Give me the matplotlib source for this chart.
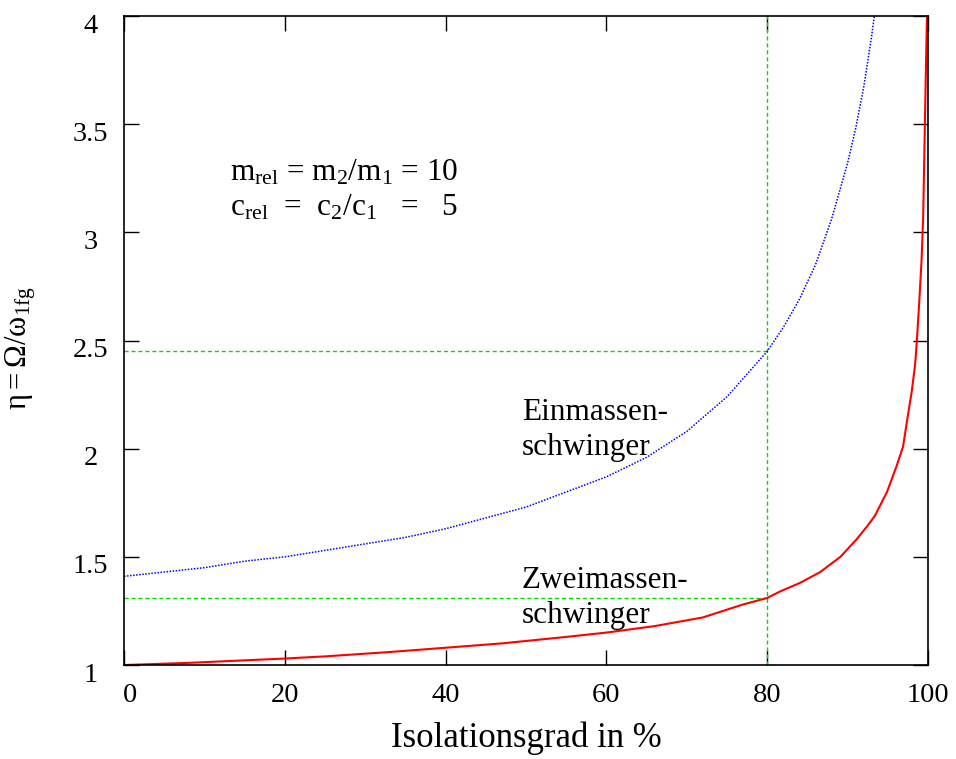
import matplotlib
matplotlib.use("Agg")
import matplotlib.pyplot as plt
import matplotlib.transforms as mtransforms

plt.rcParams["font.family"] = ["Liberation Serif", "DejaVu Serif"]
plt.rcParams["mathtext.fontset"] = "custom"
plt.rcParams["mathtext.rm"] = "Liberation Serif"
plt.rcParams["mathtext.it"] = "Liberation Serif"

# Einmassenschwinger (blue, dotted)
iso_ein = [0, 5, 10, 15, 20, 25, 30, 35, 40, 45, 50, 55, 60, 65, 70, 75, 80,
           82, 84, 86, 88, 90, 91, 92, 93, 93.4]
eta_ein = [1.41, 1.43, 1.45, 1.48, 1.50, 1.53, 1.56, 1.59, 1.63, 1.68, 1.73,
           1.80, 1.87, 1.96, 2.08, 2.24, 2.45, 2.56, 2.69, 2.85, 3.06, 3.32,
           3.48, 3.67, 3.91, 4.02]

# Zweimassenschwinger (red, solid)
iso_zwei = [0, 8, 20, 25, 33, 40, 47, 55, 60, 66, 72, 77, 80, 81.6, 84.1,
            86.6, 89.1, 91.1, 92.4, 93.4, 94.9, 96.1, 96.9, 97.4, 98.0, 98.4,
            98.6, 98.9, 99.2, 99.4, 99.6, 99.8, 99.9]
eta_zwei = [1.00, 1.01, 1.03, 1.04, 1.06, 1.08, 1.10, 1.13, 1.15, 1.18, 1.22,
            1.28, 1.31, 1.34, 1.38, 1.43, 1.50, 1.58, 1.64, 1.69, 1.80, 1.92,
            2.01, 2.13, 2.27, 2.39, 2.49, 2.67, 2.87, 3.07, 3.47, 3.87, 4.03]

# reference lines at 80 % isolation
iso_ref = 80
eta_ref_ein = 2.45
eta_ref_zwei = 1.31

xticks = [0, 20, 40, 60, 80, 100]
yticks = [1, 1.5, 2, 2.5, 3, 3.5, 4]
ytick_labels = ["1", "1.5", "2", "2.5", "3", "3.5", "4"]

fig = plt.figure(figsize=(9.56, 7.59), dpi=100)
ax = fig.add_axes([0.1297, 0.1238, 0.8410, 0.8551])

green = "#00e000"
ax.plot([iso_ref, iso_ref], [1, 4], color=green, lw=1, ls=(0, (3, 2)))
ax.plot([0, iso_ref], [eta_ref_ein, eta_ref_ein], color=green, lw=1, ls=(0, (3, 2)))
ax.plot([0, iso_ref], [eta_ref_zwei, eta_ref_zwei], color=green, lw=1, ls=(0, (3, 2)))

ax.plot(iso_ein, eta_ein, color="#0000ff", lw=1.1, ls=(0, (1, 1)))
ax.plot(iso_zwei, eta_zwei, color="#ff0000", lw=1.5)

ax.set_xlim(0, 100)
ax.set_ylim(1, 4)
ax.set_xticks(xticks)
ax.set_yticks(yticks)
ax.set_yticklabels(ytick_labels)
ax.tick_params(direction="in", length=11, width=1, top=True, right=True,
               labelsize=20.5)
ax.tick_params(axis="x", pad=13)
ax.tick_params(axis="y", pad=24)

# gnuplot puts the y labels centred and a bit below the tick
shift = mtransforms.ScaledTranslation(0, -7 / 100, fig.dpi_scale_trans)
for lab in ax.get_yticklabels():
    lab.set_ha("center")
    lab.set_transform(lab.get_transform() + shift)

# the "0" label sits a little right of the corner
nudge = mtransforms.ScaledTranslation(6 / 100, 0, fig.dpi_scale_trans)
first = ax.get_xticklabels()[0]
first.set_transform(first.get_transform() + nudge)

for sp in ax.spines.values():
    sp.set_linewidth(1.2)

ax.set_xlabel("Isolationsgrad in %", fontsize=25, labelpad=10)
ax.set_ylabel(r"$\mathrm{\eta = \Omega/\omega_{1fg}}$", fontsize=22)
ax.yaxis.set_label_coords(-0.107, 0.488)

ax.text(13.2, 3.275, r"m$_{\mathrm{rel}}$ = m$_2$/m$_1$ = 10", fontsize=22.5,
        ha="left", va="center")
ax.text(13.2, 3.115, r"c$_{\mathrm{rel}}$  =  c$_2$/c$_1$   =   5",
        fontsize=22.5, ha="left", va="center")

ax.text(49.5, 2.086, "Einmassen-\nschwinger", fontsize=22.5, ha="left",
        va="center", linespacing=1.3)
ax.text(49.5, 1.31, "Zweimassen-\nschwinger", fontsize=22.5, ha="left",
        va="center", linespacing=1.25)

fig.savefig("out.png", dpi=100)
